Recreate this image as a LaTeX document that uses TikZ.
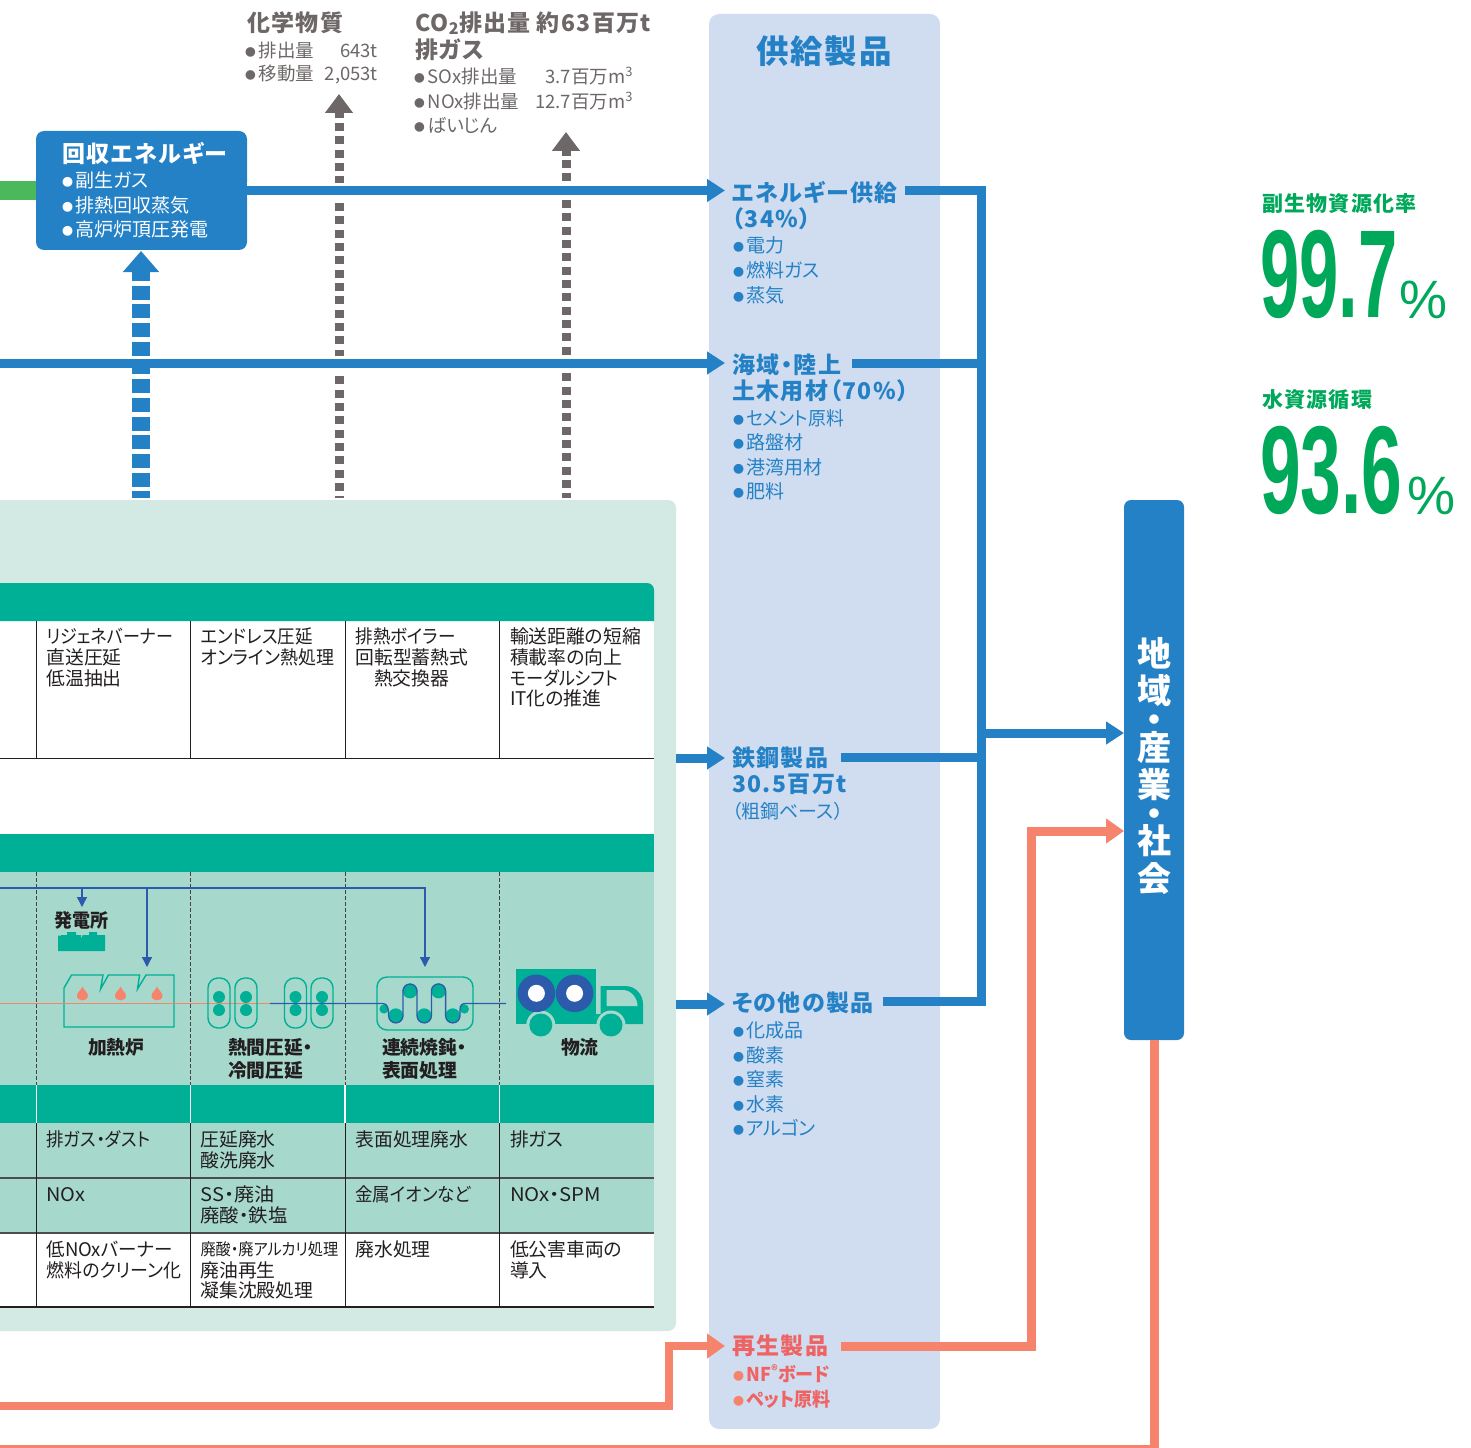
\documentclass[tikz,border=0pt]{standalone}
\usepackage{fontspec}
\usetikzlibrary{arrows.meta}
\setmainfont{Noto Sans CJK JP}[RawFeature=+palt]
\newfontfamily\lsf{Noto Sans CJK JP}[RawFeature=+palt,LetterSpace=6]
\newfontfamily\latinf{Liberation Sans}
\definecolor{cblue}{HTML}{2481C6}
\definecolor{csalmon}{HTML}{F6836B}
\definecolor{cred}{HTML}{EE6464}
\definecolor{cteal}{HTML}{00B096}
\definecolor{cmid}{HTML}{A6D9CC}
\definecolor{cpale}{HTML}{D2EAE3}
\definecolor{cpanel}{HTML}{D0DDF0}
\definecolor{cgrey}{HTML}{6D6767}
\definecolor{cgreen}{HTML}{00A85A}
\definecolor{cdblue}{HTML}{2B5BAA}
\definecolor{cdark}{HTML}{231F20}
\definecolor{cbar}{HTML}{4CB85C}
\newcommand\fs[1]{\fontsize{#1}{#1}\selectfont}
\newcommand\bl{\makebox[.7em][l]{\raisebox{.05em}{\scalebox{.58}{●}}}}
\newcommand\hs[2]{\scalebox{#1}[1]{#2}}
\newcommand\T[5]{\node[tx,#4] (#1) at (#2,#3) {\rule[-.12em]{0pt}{1em}#5};}
\tikzset{
  tx/.style={inner sep=0pt,outer sep=0pt,anchor=west},
  cell/.style={font=\fs{18.8},text=cdark},
  cellsm/.style={font=\fs{16.5},text=cdark},
  proc/.style={font=\bfseries\fs{18.8},text=cdark},
  ghead/.style={font=\lsf\bfseries\fs{23},text=cgrey},
  gitem/.style={font=\fs{18.5},text=cgrey},
  whead/.style={font=\lsf\bfseries\fs{23},text=white},
  witem/.style={font=\fs{19},text=white},
  bhead/.style={font=\lsf\bfseries\fs{23},text=cblue},
  bitem/.style={font=\fs{19},text=cblue},
  rhead/.style={font=\lsf\bfseries\fs{23},text=cred},
  ritem/.style={font=\bfseries\fs{19},text=cred},
  ghd/.style={font=\lsf\bfseries\fs{21},text=cgreen},
  bluearrow/.style={draw=cblue,line width=9pt,-{Triangle[length=18pt,width=22pt]}},
  blueline/.style={draw=cblue,line width=9pt},
  halo/.style={draw=white,line width=15pt},
  salmonline/.style={draw=csalmon,line width=9pt},
  salmonarrow/.style={draw=csalmon,line width=8pt,-{Triangle[length=18pt,width=24pt]}},
  greydash/.style={draw=cgrey,line width=9pt,dash pattern=on 8pt off 5.33pt},
  greyhead/.style={draw=cgrey,line width=9pt,-{Triangle[length=19pt,width=27pt]}},
  bluedash/.style={draw=cblue,line width=18.5pt,dash pattern=on 14pt off 4.7pt},
  bluehead/.style={draw=cblue,line width=18.5pt,-{Triangle[length=21pt,width=35pt]}},
  thinblue/.style={draw=cdblue,line width=1.3pt},
  thinarrow/.style={draw=cdblue,line width=1.3pt,-{Triangle[length=10pt,width=10pt]}},
  icon/.style={draw=cteal,line width=1.4pt},
  tline/.style={draw=cdark,line width=.9pt},
  pdash/.style={draw=cdark!85,line width=.8pt,dash pattern=on 3.5pt off 2.5pt},
}
\begin{document}
\begin{tikzpicture}[x=1pt,y=-1pt]
\useasboundingbox (0,0) rectangle (1471,1447);
\clip (0,0) rectangle (1471,1447);

% panels
\node[inner sep=0pt,minimum width=231pt,minimum height=1415pt,fill=cpanel,rounded corners=10pt] (supply) at (824.5,721.5) {};
\node[inner sep=0pt,minimum width=696pt,minimum height=831pt,fill=cpale,rounded corners=8pt] (panel) at (328,915.5) {};

% table
\fill[white] (-5,621) rectangle (654,834);
\fill[cteal] (-5,583) -- (647,583) arc[start angle=-90,end angle=0,radius=7] -- (654,621) -- (-5,621) -- cycle;
\fill[cteal] (-5,834) rectangle (654,872);
\fill[cmid] (-5,872) rectangle (654,1085);
\fill[cteal] (-5,1085) rectangle (654,1123);
\fill[cmid] (-5,1123) rectangle (654,1233);
\fill[white] (-5,1233) rectangle (654,1307);
\draw[tline] (-5,758.5) -- (654,758.5);
\draw[draw=cdark!80,line width=1.1pt] (-5,1178) -- (654,1178);
\draw[draw=cdark!80,line width=1.1pt] (-5,1233) -- (654,1233);
\draw[draw=cdark,line width=1.8pt] (-5,1307) -- (654,1307);
\foreach \x in {36.5,190.5,345,499.5}{
  \draw[tline] (\x,621) -- (\x,758.5);
  \draw[pdash] (\x,872) -- (\x,1085);
  \draw[draw=white,line width=1.4pt] (\x,1085) -- (\x,1123);
  \draw[tline] (\x,1123) -- (\x,1307);
}

% dashed upward flows
\coordinate (gA) at (339,94); \coordinate (gAs) at (339,118); \coordinate (gAd) at (339,123); \coordinate (gAb) at (339,498);
\coordinate (gB) at (566,132); \coordinate (gBs) at (566,156); \coordinate (gBd) at (566,160); \coordinate (gBb) at (566,498);
\coordinate (bA) at (141,251); \coordinate (bAs) at (141,281); \coordinate (bAd) at (141,285.6); \coordinate (bAb) at (141,498);
\draw[greydash] (gAd) -- (gAb);
\draw[greyhead] (gAs) -- (gA);
\draw[greydash] (gBd) -- (gBb);
\draw[greyhead] (gBs) -- (gB);

% recovered energy box
\node[inner sep=0pt,minimum width=211pt,minimum height=119pt,fill=cblue,rounded corners=8pt] (recov) at (141.5,190.5) {};
\fill[cbar] (0,181) rectangle (36,200);

% main horizontal flows
\coordinate (hA) at (247,190.5); \coordinate (hAe) at (725,190.5); \coordinate (hAh) at (702,190.5);
\coordinate (hB) at (0,363); \coordinate (hBe) at (725,363); \coordinate (hBh) at (702,363);
\draw[halo] (hA) -- (hAh);
\draw[halo] (hB) -- (hBh);
\draw[bluedash] (bAd) -- (bAb);
\draw[bluehead] (bAs) -- (bA);
\draw[bluearrow] (hA) -- (hAe);
\draw[bluearrow] (hB) -- (hBe);
\coordinate (sA) at (676,758); \coordinate (sAe) at (725,758);
\coordinate (sB) at (676,1004); \coordinate (sBe) at (725,1004);
\draw[bluearrow] (sA) -- (sAe);
\draw[bluearrow] (sB) -- (sBe);

% collector
\coordinate (c1) at (905,190.5); \coordinate (c2) at (852,363); \coordinate (c3) at (841,757); \coordinate (c4) at (883,1001);
\coordinate (cx1) at (981,190.5); \coordinate (cx2) at (981,363); \coordinate (cx3) at (981,757); \coordinate (cx4) at (981,1001);
\draw[blueline,line join=miter] (c1) -- (cx1) -- (cx4) -- (c4);
\draw[blueline] (c2) -- (cx2);
\draw[blueline] (c3) -- (cx3);
\coordinate (cout) at (981,733); \coordinate (coute) at (1124,733);
\draw[bluearrow] (cout) -- (coute);

% society box
\node[inner sep=0pt,minimum width=60pt,minimum height=540pt,fill=cblue,rounded corners=7pt] (society) at (1154,770) {};
\node[inner sep=0pt,anchor=north,align=center,text=white,font=\bfseries\fontsize{34}{37.6}\selectfont] (societyt) at (1154,637)
  {地\\域\\[-9pt]・\\[-10pt]産\\業\\[-9pt]・\\[-10pt]社\\会};

% salmon flows
\coordinate (r1) at (841,1346); \coordinate (r1x) at (1031,1346); \coordinate (r1y) at (1031,831); \coordinate (r1e) at (1124,831);
\draw[salmonline] (r1) -- (r1x) -- (r1y) -- (1106,831);
\draw[salmonarrow] (r1y) -- (r1e);
\coordinate (r2) at (-5,1406); \coordinate (r2x) at (669,1406); \coordinate (r2y) at (669,1346); \coordinate (r2e) at (725,1346);
\draw[salmonline,line width=8pt] (r2) -- (r2x) -- (r2y) -- (710,1346);
\draw[salmonarrow] (r2y) -- (r2e);
\coordinate (r3) at (1154,1040); \coordinate (r3x) at (1154,1449); \coordinate (r3e) at (-5,1449);
\draw[salmonline] (r3) -- (r3x) -- (r3e);

% process lines
\coordinate (pl0) at (-5,888); \coordinate (pl1) at (425,888); \coordinate (pl2) at (425,967);
\coordinate (pb1) at (147,888); \coordinate (pb1e) at (147,967);
\coordinate (pb2) at (82,888); \coordinate (pb2e) at (82,907);
\draw[thinarrow] (pl0) -- (pl1) -- (pl2);
\draw[thinarrow] (pb1) -- (pb1e);
\draw[thinarrow] (pb2) -- (pb2e);

% power station icon
\fill[cteal] (58,951) -- (58,935.5) -- (61,935.5) -- (61,935) -- (67,935) -- (67,932) -- (76,932) -- (76,935) -- (81,935) -- (81.5,939) -- (82.5,935) -- (89,935) -- (89,932) -- (97,932) -- (97,935) -- (105,935) -- (105,951) -- cycle;

% furnace
\draw[icon] (64,1027) -- (64,988) -- (71.5,975) -- (103,975) -- (100.6,989) -- (108.4,975) -- (139.6,975) -- (137.5,989) -- (146,975) -- (174,975) -- (174,1027) -- cycle;
\foreach \x in {82.4,120.5,157}{
  \begin{scope}[shift={(\x,0)}]
  \fill[csalmon] (0,986.5) .. controls (1.5,990.5) and (5.5,992.5) .. (5.5,995.5) .. controls (5.5,1002) and (-5.5,1002) .. (-5.5,995.5) .. controls (-5.5,992.5) and (-1.5,990.5) .. cycle;
  \end{scope}
}
% product line
\draw[draw=csalmon,line width=1.8pt] (-5,1003.5) -- (270,1003.5);

% rolling mills
\foreach \x in {219,246,295.5,322}{
  \draw[icon,rounded corners=10pt] (\x-11,978) rectangle (\x+11,1028);
  \fill[cteal] (\x,997) circle[radius=6];
  \fill[cteal] (\x,1010) circle[radius=6];
}
% annealing
\draw[icon,rounded corners=10pt] (377,977) rectangle (473,1030);
\foreach \x/\y/\r in {395.8/1015.7/7.4,424.2/1015.7/7.4,452.8/1015.7/7.4,410/991/7.4,438.5/991/7.4,384/1009/4.6,464.4/1009/4.6}{
  \fill[cteal] (\x,\y) circle[radius=\r];
}
\draw[thinblue] (270,1003.5) -- (383,1003.5) .. controls (388,1003.5) and (388.6,1010) .. (388.6,1015.7)
  arc[start angle=180,end angle=0,radius=7.2] -- (403,991) arc[start angle=180,end angle=360,radius=7]
  -- (417,1015.7) arc[start angle=180,end angle=0,radius=7.2] -- (431.4,991) arc[start angle=180,end angle=360,radius=7.1]
  -- (445.6,1015.7) arc[start angle=180,end angle=0,radius=7.2] -- (460,1010) .. controls (460,1005) and (462,1003.5) .. (466,1003.5) -- (506,1003.5);

% truck
\fill[cteal] (515.6,969) rectangle (596,1024);
\fill[cteal] (596,1014) rectangle (601,1024);
\fill[cteal] (600.6,1024) -- (600.6,986) -- (625,986) .. controls (636,986) and (643,995) .. (643,1004) -- (643,1024) -- cycle;
\fill[cmid] (606.7,990) -- (623,990) .. controls (631,990) and (637.5,998) .. (637.5,1006) -- (606.7,1006) -- cycle;
\foreach \x in {540.8,611}{
  \fill[cmid] (\x,1025) circle[radius=14.5];
  \fill[cteal] (\x,1025) circle[radius=11.5];
}
\foreach \x in {536.4,574.6}{
  \fill[cdblue] (\x,993.3) circle[radius=18.8];
  \fill[white] (\x,993.3) circle[radius=8.5];
}

% top labels
\T{t1}{247}{23}{ghead}{化学物質}
\T{t2}{245}{50}{gitem}{\bl\hspace{1pt}\makebox[56pt][l]{排出量}\makebox[63pt][r]{643t}}
\T{t3}{245}{74}{gitem}{\bl\hspace{1pt}\makebox[56pt][l]{移動量}\makebox[63pt][r]{2,053t}}
\T{t4}{415}{23}{ghead}{CO\textsubscript{2}排出量\hspace{6pt}約63百万t}
\T{t5}{415}{50}{ghead}{排ガス}
\T{t6}{414}{76}{gitem}{\bl\hspace{1pt}\makebox[93pt][l]{SOx排出量}\makebox[112pt][r]{3.7百万m\textsuperscript{3}}}
\T{t7}{414}{101}{gitem}{\bl\hspace{1pt}\makebox[95pt][l]{NOx排出量}\makebox[110pt][r]{12.7百万m\textsuperscript{3}}}
\T{t8}{414}{125}{gitem}{\bl\hspace{1pt}ばいじん}

% recovered
\T{r0}{62}{154}{whead}{回収エネルギー}
\T{r1t}{62}{180}{witem}{\bl 副生ガス}
\T{r2t}{62}{205}{witem}{\bl 排熱回収蒸気}
\T{r3t}{62}{229}{witem}{\bl 高炉炉頂圧発電}

% supply
\node[inner sep=0pt,font=\lsf\bfseries\fs{32.5},text=cblue] (sup) at (824,51) {\rule[-.12em]{0pt}{1em}供給製品};
\T{e0}{732}{193}{bhead}{エネルギー供給}
\T{e1}{732}{219}{bhead}{（34\%）}
\T{e2}{733}{245}{bitem}{\bl 電力}
\T{e3}{733}{270}{bitem}{\bl 燃料ガス}
\T{e4}{733}{295}{bitem}{\bl 蒸気}
\T{k0}{732}{365}{bhead}{海域・陸上}
\T{k1}{732}{391}{bhead}{土木用材（70\%）}
\T{k2}{733}{418}{bitem}{\bl\hs{.94}{セメント原料}}
\T{k3}{733}{442}{bitem}{\bl 路盤材}
\T{k4}{733}{467}{bitem}{\bl 港湾用材}
\T{k5}{733}{491}{bitem}{\bl 肥料}
\T{s0}{732}{758}{bhead}{鉄鋼製品}
\T{s1}{732}{784}{bhead}{30.5百万t}
\T{s2}{732}{811}{bitem}{（粗鋼ベース）}
\T{o0}{732}{1003}{bhead}{その他の製品}
\T{o1}{733}{1030}{bitem}{\bl 化成品}
\T{o2}{733}{1055}{bitem}{\bl 酸素}
\T{o3}{733}{1079}{bitem}{\bl 窒素}
\T{o4}{733}{1104}{bitem}{\bl 水素}
\T{o5}{733}{1128}{bitem}{\bl アルゴン}
\T{p0}{732}{1346}{rhead}{再生製品}
\T{p1}{733}{1374}{ritem}{{\color{csalmon}\bl}\hs{.95}{NF\textsuperscript{®}ボード}}
\T{p2}{733}{1399}{ritem}{{\color{csalmon}\bl}\hs{.95}{ペット原料}}

% right figures
\T{g1}{1262}{204}{ghd}{副生物資源化率}
\node[inner sep=0pt,anchor=base west,text=cgreen,font=\latinf\bfseries\fs{125}] (n1) at (1260,317) {\scalebox{.565}[1]{99.7}};
\node[inner sep=0pt,anchor=base west,text=cgreen,font=\latinf\fs{54}] (n1p) at (1399,318) {\%};
\T{g2}{1262}{400}{ghd}{水資源循環}
\node[inner sep=0pt,anchor=base west,text=cgreen,font=\latinf\bfseries\fs{125}] (n2) at (1260,513) {\scalebox{.585}[1]{93.6}};
\node[inner sep=0pt,anchor=base west,text=cgreen,font=\latinf\fs{54}] (n2p) at (1407,514) {\%};

% table texts
\T{a1}{46.5}{636}{cell}{\hs{.906}{リジェネバーナー}}
\T{a2}{46.5}{657}{cell}{直送圧延}
\T{a3}{46.5}{678}{cell}{低温抽出}
\T{b1}{200.5}{636}{cell}{\hs{.93}{エンドレス圧延}}
\T{b2}{200.5}{657}{cell}{\hs{.955}{オンライン熱処理}}
\T{c1}{355.5}{636}{cell}{\hs{.935}{排熱ボイラー}}
\T{c2}{355.5}{657}{cell}{回転型蓄熱式}
\T{c3}{374}{678}{cell}{熱交換器}
\T{d1}{510}{636}{cell}{輸送距離の短縮}
\T{d2}{510}{657}{cell}{積載率の向上}
\T{d3}{510}{678}{cell}{\hs{.915}{モーダルシフト}}
\T{d4}{510}{698}{cell}{IT化の推進}

\T{pw}{54}{920.5}{proc}{\hs{.96}{発電所}}
\T{f1}{88}{1047.5}{proc}{加熱炉}
\T{h1}{228}{1047.5}{proc}{熱間圧延・}
\T{h2}{228}{1070.5}{proc}{冷間圧延}
\T{j1}{382}{1047.5}{proc}{連続焼鈍・}
\T{j2}{382}{1070.5}{proc}{表面処理}
\T{l1}{561}{1047.5}{proc}{物流}

\T{u1}{46.5}{1139}{cell}{\hs{.93}{排ガス・ダスト}}
\T{u2}{200.5}{1139}{cell}{圧延廃水}
\T{u3}{200.5}{1160}{cell}{酸洗廃水}
\T{u4}{355.5}{1139}{cell}{表面処理廃水}
\T{u5}{510}{1139}{cell}{排ガス}
\T{v1}{46.5}{1194}{cell}{\hs{1.06}{NOx}}
\T{v2}{200.5}{1194}{cell}{\hs{1.07}{SS・廃油}}
\T{v3}{200.5}{1215}{cell}{\hs{1.03}{廃酸・鉄塩}}
\T{v4}{355.5}{1194}{cell}{\hs{.93}{金属イオンなど}}
\T{v5}{510}{1194}{cell}{\hs{1.08}{NOx・SPM}}
\T{w1}{46.5}{1249}{cell}{\hs{.985}{低NOxバーナー}}
\T{w2}{46.5}{1270}{cell}{\hs{.955}{燃料のクリーン化}}
\T{w3}{200.5}{1249}{cellsm}{\hs{.92}{廃酸・廃アルカリ処理}}
\T{w4}{200.5}{1270}{cell}{廃油再生}
\T{w5}{200.5}{1290}{cell}{凝集沈殿処理}
\T{w6}{355.5}{1249}{cell}{廃水処理}
\T{w7}{510}{1249}{cell}{低公害車両の}
\T{w8}{510}{1270}{cell}{導入}
\end{tikzpicture}
\end{document}
